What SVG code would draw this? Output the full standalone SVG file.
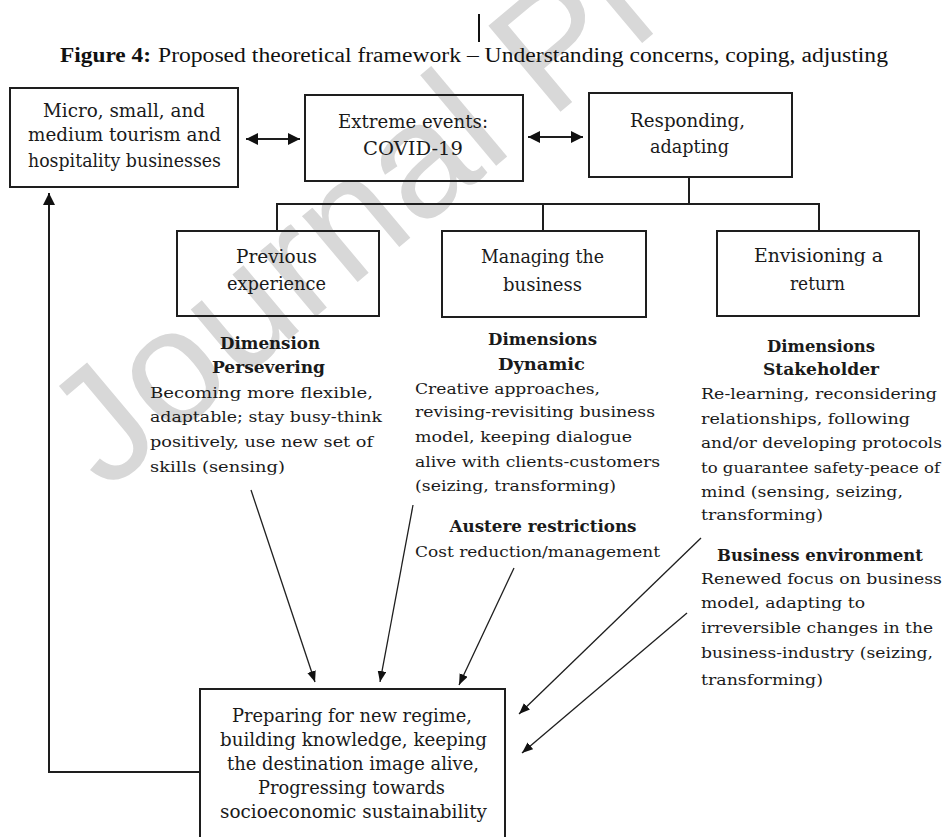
<svg xmlns="http://www.w3.org/2000/svg" width="947" height="837" viewBox="0 0 947 837">
<defs>
<style>
.box{fill:none;stroke:#1e1e1e;stroke-width:2}
.bt{font-family:"DejaVu Serif","Liberation Serif",serif;font-size:18px;fill:#1a1a1a;text-anchor:middle}
.dt{font-family:"DejaVu Serif","Liberation Serif",serif;font-size:15.5px;fill:#1a1a1a}
.dh{font-family:"DejaVu Serif","Liberation Serif",serif;font-size:16px;font-weight:bold;fill:#1a1a1a;text-anchor:middle}
.ti{font-family:"Liberation Serif",serif;font-size:20px;fill:#111}
.ln{fill:none;stroke:#1e1e1e;stroke-width:2}
.ar{fill:none;stroke:#1e1e1e;stroke-width:1.3}
.wm{font-family:"Liberation Sans",Arial,sans-serif;font-size:163px;fill:#d8d8d8}
</style>
<marker id="ah" viewBox="0 0 10 10" refX="10" refY="5" markerUnits="userSpaceOnUse" markerWidth="12" markerHeight="12" orient="auto-start-reverse"><path d="M0,0 L10,5 L0,10 z" fill="#111"/></marker>
<marker id="as" viewBox="0 0 10 8" refX="10" refY="4" markerUnits="userSpaceOnUse" markerWidth="11" markerHeight="9" orient="auto"><path d="M0,0 L10,4 L0,8 z" fill="#111"/></marker>
</defs>
<rect width="947" height="837" fill="#fff"/>
<text class="wm" transform="translate(106,493) rotate(-40)">Journal Pre-proof</text>

<g id="title">
<rect x="478" y="14" width="2" height="28" fill="#111"/>
<text class="ti" x="60" y="62" font-weight="bold" textLength="91" lengthAdjust="spacingAndGlyphs">Figure 4:</text>
<text class="ti" x="158" y="62" textLength="730" lengthAdjust="spacingAndGlyphs">Proposed theoretical framework – Understanding concerns, coping, adjusting</text>
</g>

<g id="connectors">
<line class="ln" x1="246" y1="139" x2="300" y2="139" marker-start="url(#ah)" marker-end="url(#ah)"/>
<line class="ln" x1="528" y1="137" x2="583" y2="137" marker-start="url(#ah)" marker-end="url(#ah)"/>
<path class="ln" d="M689,177 V204 M277,231 V204 H819 V231 M543,204 V231"/>
<line class="ar" x1="251" y1="490" x2="315" y2="682" marker-end="url(#as)"/>
<line class="ar" x1="413" y1="505" x2="380" y2="682" marker-end="url(#as)"/>
<line class="ar" x1="514" y1="568" x2="459" y2="685" marker-end="url(#as)"/>
<line class="ar" x1="701" y1="538" x2="519" y2="714" marker-end="url(#as)"/>
<line class="ar" x1="687" y1="613" x2="522" y2="753" marker-end="url(#as)"/>
<path class="ln" d="M200,772 H49 V193" marker-end="url(#ah)"/>
</g>

<g id="micro">
<rect class="box" x="10" y="88" width="228" height="99"/>
<text class="bt" x="124" y="117" textLength="162" lengthAdjust="spacingAndGlyphs">Micro, small, and</text>
<text class="bt" x="124.5" y="141" textLength="193" lengthAdjust="spacingAndGlyphs">medium tourism and</text>
<text class="bt" x="124.5" y="167" textLength="193" lengthAdjust="spacingAndGlyphs">hospitality businesses</text>
</g>

<g id="extreme">
<rect class="box" x="305" y="95" width="218" height="86"/>
<text class="bt" x="413" y="128" textLength="150" lengthAdjust="spacingAndGlyphs">Extreme events:</text>
<text class="bt" x="413" y="155" textLength="100" lengthAdjust="spacingAndGlyphs">COVID-19</text>
</g>

<g id="responding">
<rect class="box" x="589" y="93" width="203" height="84"/>
<text class="bt" x="687.5" y="127" textLength="115" lengthAdjust="spacingAndGlyphs">Responding,</text>
<text class="bt" x="689.5" y="153" textLength="79" lengthAdjust="spacingAndGlyphs">adapting</text>
</g>

<g id="previous">
<rect class="box" x="177" y="231" width="202" height="85"/>
<text class="bt" x="276.5" y="263" textLength="81" lengthAdjust="spacingAndGlyphs">Previous</text>
<text class="bt" x="276.5" y="290" textLength="99" lengthAdjust="spacingAndGlyphs">experience</text>
</g>

<g id="managing">
<rect class="box" x="442" y="231" width="204" height="86"/>
<text class="bt" x="542.5" y="263" textLength="123" lengthAdjust="spacingAndGlyphs">Managing the</text>
<text class="bt" x="542.5" y="291" textLength="79" lengthAdjust="spacingAndGlyphs">business</text>
</g>

<g id="envisioning">
<rect class="box" x="717" y="231" width="202" height="85"/>
<text class="bt" x="818.5" y="262" textLength="129" lengthAdjust="spacingAndGlyphs">Envisioning a</text>
<text class="bt" x="817.5" y="290" textLength="55" lengthAdjust="spacingAndGlyphs">return</text>
</g>

<g id="dim-persevering">
<text class="dh" x="270" y="349" textLength="100" lengthAdjust="spacingAndGlyphs">Dimension</text>
<text class="dh" x="268.5" y="373" textLength="113" lengthAdjust="spacingAndGlyphs">Persevering</text>
<text class="dt" x="150" y="398" textLength="223" lengthAdjust="spacingAndGlyphs">Becoming more flexible,</text>
<text class="dt" x="150" y="422" textLength="232" lengthAdjust="spacingAndGlyphs">adaptable; stay busy-think</text>
<text class="dt" x="150" y="447" textLength="223" lengthAdjust="spacingAndGlyphs">positively, use new set of</text>
<text class="dt" x="150" y="472" textLength="135" lengthAdjust="spacingAndGlyphs">skills (sensing)</text>
</g>

<g id="dim-dynamic">
<text class="dh" x="542.5" y="345" textLength="109" lengthAdjust="spacingAndGlyphs">Dimensions</text>
<text class="dh" x="541.5" y="370" textLength="87" lengthAdjust="spacingAndGlyphs">Dynamic</text>
<text class="dt" x="415" y="394" textLength="185" lengthAdjust="spacingAndGlyphs">Creative approaches,</text>
<text class="dt" x="415" y="417" textLength="240" lengthAdjust="spacingAndGlyphs">revising-revisiting business</text>
<text class="dt" x="415" y="442" textLength="217" lengthAdjust="spacingAndGlyphs">model, keeping dialogue</text>
<text class="dt" x="415" y="467" textLength="245" lengthAdjust="spacingAndGlyphs">alive with clients-customers</text>
<text class="dt" x="415" y="491" textLength="201" lengthAdjust="spacingAndGlyphs">(seizing, transforming)</text>
</g>

<g id="dim-austere">
<text class="dh" x="543" y="532" textLength="187" lengthAdjust="spacingAndGlyphs">Austere restrictions</text>
<text class="dt" x="415" y="557" textLength="245" lengthAdjust="spacingAndGlyphs">Cost reduction/management</text>
</g>

<g id="dim-stakeholder">
<text class="dh" x="821" y="352" textLength="108" lengthAdjust="spacingAndGlyphs">Dimensions</text>
<text class="dh" x="821" y="375" textLength="116" lengthAdjust="spacingAndGlyphs">Stakeholder</text>
<text class="dt" x="701" y="399" textLength="236" lengthAdjust="spacingAndGlyphs">Re-learning, reconsidering</text>
<text class="dt" x="701" y="424" textLength="209" lengthAdjust="spacingAndGlyphs">relationships, following</text>
<text class="dt" x="701" y="448" textLength="241" lengthAdjust="spacingAndGlyphs">and/or developing protocols</text>
<text class="dt" x="701" y="473" textLength="239" lengthAdjust="spacingAndGlyphs">to guarantee safety-peace of</text>
<text class="dt" x="701" y="497" textLength="202" lengthAdjust="spacingAndGlyphs">mind (sensing, seizing,</text>
<text class="dt" x="701" y="520" textLength="122" lengthAdjust="spacingAndGlyphs">transforming)</text>
</g>

<g id="dim-business">
<text class="dh" x="820" y="561" textLength="206" lengthAdjust="spacingAndGlyphs">Business environment</text>
<text class="dt" x="701" y="584" textLength="241" lengthAdjust="spacingAndGlyphs">Renewed focus on business</text>
<text class="dt" x="701" y="608" textLength="164" lengthAdjust="spacingAndGlyphs">model, adapting to</text>
<text class="dt" x="701" y="633" textLength="232" lengthAdjust="spacingAndGlyphs">irreversible changes in the</text>
<text class="dt" x="701" y="658" textLength="232" lengthAdjust="spacingAndGlyphs">business-industry (seizing,</text>
<text class="dt" x="701" y="685" textLength="122" lengthAdjust="spacingAndGlyphs">transforming)</text>
</g>

<g id="preparing">
<rect class="box" x="200" y="689" width="305" height="170"/>
<text class="bt" x="352" y="722" textLength="240" lengthAdjust="spacingAndGlyphs">Preparing for new regime,</text>
<text class="bt" x="353.5" y="746" textLength="267" lengthAdjust="spacingAndGlyphs">building knowledge, keeping</text>
<text class="bt" x="353" y="770" textLength="252" lengthAdjust="spacingAndGlyphs">the destination image alive,</text>
<text class="bt" x="351.5" y="794" textLength="187" lengthAdjust="spacingAndGlyphs">Progressing towards</text>
<text class="bt" x="353.5" y="818" textLength="267" lengthAdjust="spacingAndGlyphs">socioeconomic sustainability</text>
</g>
</svg>
